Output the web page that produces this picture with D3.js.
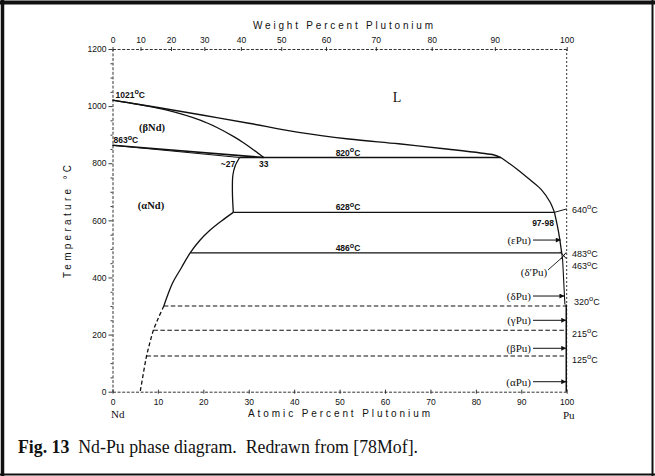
<!DOCTYPE html>
<html><head><meta charset="utf-8">
<script src="https://cdn.jsdelivr.net/npm/d3@7"></script>
<style>
html,body{margin:0;padding:0;background:#fff;}
svg{display:block;}
</style></head><body>
<svg id="chart" width="655" height="476"></svg>
<script>
// ---- axis values ----
const atomicTicks = [0, 10, 20, 30, 40, 50, 60, 70, 80, 90, 100];
const weightTicks = [0, 10, 20, 30, 40, 50, 60, 70, 80, 90, 100];
const tempTicks = [0, 200, 400, 600, 800, 1000, 1200];

// ---- phase boundaries: [at.% Pu, °C] ----
const liquidusNd = [[0,1021],[10,995],[20,968],[30,940],[41,908],[52,885],[63,868],[74,849],[81,836],[84,829],[85.5,820]];
const liquidusPuRich = [[85.5,820],[89,780],[92,741],[94.5,706],[96.3,665],[97.3,628]];
const liquidusPu = [[97.3,628],[100,640]];
const betaNdSolidus = [[0,1021],[6,1005],[12,986],[19.3,951],[23,925],[26.7,893],[29,870],[31.1,846],[33.3,820]];
const betaNdTransus = [[0,863],[33.3,820]];
const alphaNdTransus = [[0,863],[28,820]];
const alphaNdSolvusHigh = [[28,820],[27,790],[26.5,758],[26.4,700],[26.6,628]];
const alphaNdSolvusLow = [[26.6,628],[24,598],[21.5,566],[19.3,531],[17.1,486],[15.2,435],[13.2,380],[12.2,340],[11.3,300]];
const alphaNdSolvusDashed = [[11.3,300],[10.1,258],[9,215],[8.2,170],[7.5,125],[6.8,65],[6.1,0]];
const epsPuSolvus = [[97.3,628],[98.2,560],[98.9,486]];
const deltaPuBoundary = [[98.9,486],[99.1,463],[99.6,305]];
const puSideBoundary = [[99.9,305],[99.9,0]];

// invariant lines
const isoTemps = [820, 628, 486];
const isoFrom = [28, 26.6, 17.1];
const isoTo = [85.5, 97.3, 98.9];
const dashTemps = [300, 215, 125];
const dashFrom = [11.3, 9, 7.5];
const dashTo = [100, 100, 100];

// Pu-side allotropes and arrow levels
const puPhases = ["(εPu)", "(δPu)", "(γPu)", "(βPu)", "(αPu)"];
const puArrowTemps = [531, 335, 250, 152, 35];
const puPhaseTemps = [640, 483, 463, 320, 215, 125];

// atomic masses for the weight-percent scale
const massNd = 144.24, massPu = 244;
const wtToAt = w => 100 * (w / massPu) / (w / massPu + (100 - w) / massNd);

const svg = d3.select("#chart");
const ink = "#111";

const x = d3.scaleLinear().domain([0, 100]).range([112.5, 566.7]);
const y = d3.scaleLinear().domain([0, 1200]).range([391.7, 49]);

// outer frame
svg.append("rect").attr("x", 0).attr("y", 0).attr("width", 655).attr("height", 476).attr("fill", "#fff");
svg.append("line").attr("x1", 0).attr("x2", 655).attr("y1", 2.5).attr("y2", 2.5).attr("stroke", ink).attr("stroke-width", 4);
svg.append("line").attr("x1", 2.5).attr("x2", 2.5).attr("y1", 0).attr("y2", 476).attr("stroke", ink).attr("stroke-width", 3.5);
svg.append("line").attr("x1", 652.5).attr("x2", 652.5).attr("y1", 0).attr("y2", 476).attr("stroke", ink).attr("stroke-width", 2);
svg.append("line").attr("x1", 0).attr("x2", 655).attr("y1", 474.5).attr("y2", 474.5).attr("stroke", ink).attr("stroke-width", 2);

const tickFont = "'Liberation Sans', Arial, sans-serif";

function styleAxis(g) {
  g.select(".domain").attr("stroke", "#333").attr("stroke-width", 1).attr("stroke-dasharray", "3,1.6");
  g.selectAll(".tick line").attr("stroke", "#222").attr("stroke-width", 0.9);
  g.selectAll(".tick text").attr("fill", ink).attr("font-family", tickFont).attr("font-size", 8.5);
}

// left temperature axis
svg.append("g").attr("transform", `translate(${x(0)},0)`)
  .call(d3.axisLeft(y).tickValues(tempTicks).tickFormat(d => String(d)).tickSize(4).tickSizeOuter(0).tickPadding(2))
  .call(styleAxis);
// minor ticks
svg.append("g").attr("transform", `translate(${x(0)},0)`)
  .call(d3.axisLeft(y).tickValues(d3.range(50, 1200, 50).filter(v => v % 200)).tickSize(2).tickFormat(""))
  .call(g => g.select(".domain").remove())
  .call(styleAxis);

// bottom atomic-percent axis
svg.append("g").attr("transform", `translate(0,${y(0)})`)
  .call(d3.axisBottom(x).tickValues(atomicTicks).tickFormat(d => String(d)).tickSize(3).tickSizeOuter(0).tickPadding(4))
  .call(styleAxis)
  .call(g => g.selectAll(".tick line").attr("y1", -2).attr("y2", 2));

// top weight-percent axis
svg.append("g").attr("transform", `translate(0,${y(1200)})`)
  .call(d3.axisTop(x).tickValues(weightTicks.map(wtToAt)).tickFormat((d, i) => String(weightTicks[i])).tickSize(3).tickSizeOuter(0).tickPadding(3))
  .call(styleAxis)
  .call(g => g.selectAll(".tick line").attr("y1", -2).attr("y2", 2));

// right edge (pure Pu)
svg.append("line").attr("x1", x(100)).attr("x2", x(100)).attr("y1", y(1200)).attr("y2", y(0))
  .attr("stroke", "#333").attr("stroke-width", 1).attr("stroke-dasharray", "2,2");

// axis titles
svg.append("text").attr("x", 253).attr("y", 28.5).attr("textLength", 180).attr("lengthAdjust", "spacing")
  .attr("font-family", tickFont).attr("font-size", 10).attr("fill", ink).text("Weight Percent Plutonium");
svg.append("text").attr("x", 248).attr("y", 417).attr("textLength", 182).attr("lengthAdjust", "spacing")
  .attr("font-family", tickFont).attr("font-size", 10).attr("fill", ink).text("Atomic Percent Plutonium");
svg.append("text").attr("transform", "translate(71,278) rotate(-90)").attr("textLength", 113).attr("lengthAdjust", "spacing")
  .attr("font-family", tickFont).attr("font-size", 10).attr("fill", ink).text("Temperature °C");
svg.append("text").attr("x", 111).attr("y", 417.5).attr("font-family", "'Liberation Serif', serif").attr("font-size", 11).attr("fill", ink).text("Nd");
svg.append("text").attr("x", 563).attr("y", 419).attr("font-family", "'Liberation Serif', serif").attr("font-size", 11).attr("fill", ink).text("Pu");

// phase boundary lines
const line = d3.line().x(d => x(d[0])).y(d => y(d[1]));
const curve = d3.line().x(d => x(d[0])).y(d => y(d[1])).curve(d3.curveCatmullRom.alpha(0.5));
const bounds = svg.append("g").attr("fill", "none").attr("stroke", ink).attr("stroke-width", 1.3).attr("stroke-linejoin", "round");
bounds.append("path").attr("d", curve(liquidusNd)).attr("stroke-width", 1.4);
bounds.append("path").attr("d", curve(liquidusPuRich)).attr("stroke-width", 1.3);
bounds.append("path").attr("d", line(liquidusPu)).attr("stroke-width", 1);
bounds.append("path").attr("d", curve(betaNdSolidus));
bounds.append("path").attr("d", line(betaNdTransus)).attr("stroke-width", 1.6);
bounds.append("path").attr("d", line(alphaNdTransus)).attr("stroke-width", 1.2);
bounds.append("path").attr("d", curve(alphaNdSolvusHigh));
bounds.append("path").attr("d", curve(alphaNdSolvusLow));
bounds.append("path").attr("d", curve(alphaNdSolvusDashed)).attr("stroke-dasharray", "4,2.5");
bounds.append("path").attr("d", curve(epsPuSolvus));
bounds.append("path").attr("d", line(deltaPuBoundary)).attr("stroke-width", 1.1);
bounds.append("path").attr("d", line(puSideBoundary)).attr("stroke-width", 1.5);

isoTemps.forEach((t, i) => {
  bounds.append("line").attr("x1", x(isoFrom[i])).attr("x2", x(isoTo[i])).attr("y1", y(t)).attr("y2", y(t)).attr("stroke-width", 1.4);
});
dashTemps.forEach((t, i) => {
  bounds.append("line").attr("x1", x(dashFrom[i])).attr("x2", x(dashTo[i])).attr("y1", y(t)).attr("y2", y(t)).attr("stroke-dasharray", "4.5,2.5").attr("stroke-width", 1.1);
});

// small crossing between the delta and delta-prime fields
bounds.append("path").attr("d", line([[98.6, 490], [99.9, 466]])).attr("stroke-width", 1);
bounds.append("path").attr("d", line([[99.9, 488], [98.7, 464]])).attr("stroke-width", 1);

// temperature annotations with raised degree sign
function tempLabel(px, py, value, opts = {}) {
  const t = svg.append("text").attr("x", px).attr("y", py)
    .attr("font-family", tickFont).attr("font-size", opts.size || 8.5)
    .attr("font-weight", opts.bold ? "bold" : "normal")
    .attr("text-anchor", opts.anchor || "start").attr("fill", ink);
  t.append("tspan").text(value);
  t.append("tspan").attr("dy", -3.2).attr("font-size", (opts.size || 8.5) * 0.85).text("o");
  t.append("tspan").attr("dy", 3.2).text("C");
  return t;
}
tempLabel(x(0) + 3, y(1021) - 2.5, 1021, { bold: true });
tempLabel(x(0) + 1, y(863) - 2.5, 863, { bold: true });
isoTemps.forEach((t, i) => tempLabel(348, y(t) - 2, t, { bold: true, anchor: "middle" }));

// Pu-side transition temperatures
const puLabelY = [212.5, 257, 269, 304.5, 336.5, 362.5];
puPhaseTemps.forEach((t, i) => tempLabel(i === 3 ? 574 : 572, puLabelY[i], t, { size: 9 }));

// composition labels
const smallBold = s => s.attr("font-family", tickFont).attr("font-size", 8.5).attr("font-weight", "bold").attr("fill", ink);
svg.append("text").attr("x", 228).attr("y", y(820) + 9).attr("text-anchor", "middle").call(smallBold).text("~27");
svg.append("text").attr("x", x(33.3)).attr("y", y(820) + 9).attr("text-anchor", "middle").call(smallBold).text("33");
svg.append("text").attr("x", 543).attr("y", 226).attr("text-anchor", "middle").call(smallBold).text("97-98");

// phase field labels
const serif = "'Liberation Serif', 'Times New Roman', serif";
svg.append("text").attr("x", 397).attr("y", 102).attr("text-anchor", "middle").attr("font-family", serif).attr("font-size", 14).attr("fill", ink).text("L");
svg.append("text").attr("x", 152).attr("y", 130.5).attr("text-anchor", "middle").attr("font-family", serif).attr("font-size", 10.5).attr("font-weight", "bold").attr("fill", ink).text("(βNd)");
svg.append("text").attr("x", 151).attr("y", 209).attr("text-anchor", "middle").attr("font-family", serif).attr("font-size", 10.5).attr("font-weight", "bold").attr("fill", ink).text("(αNd)");
svg.append("text").attr("x", 534).attr("y", 275.5).attr("text-anchor", "middle").attr("font-family", serif).attr("font-size", 11).attr("fill", ink).text("(δ′Pu)");
bounds.append("path").attr("d", `M${x(99.2)},${y(473)}L548,270`).attr("stroke-width", 0.9);

// Pu allotrope labels with arrows
const defs = svg.append("defs");
defs.append("marker").attr("id", "head").attr("viewBox", "0 0 10 10").attr("refX", 10).attr("refY", 5)
  .attr("markerWidth", 6).attr("markerHeight", 5).attr("orient", "auto")
  .append("path").attr("d", "M0,0L10,5L0,10z").attr("fill", ink);
puPhases.forEach((p, i) => {
  const yy = y(puArrowTemps[i]);
  svg.append("text").attr("x", 531).attr("y", yy + 3.8).attr("text-anchor", "end")
    .attr("font-family", serif).attr("font-size", 11).attr("fill", ink).text(p);
  svg.append("line").attr("x1", 533).attr("x2", x(i === 0 ? 98.7 : i === 1 ? 99.5 : 99.9)).attr("y1", yy).attr("y2", yy)
    .attr("stroke", ink).attr("stroke-width", 1).attr("marker-end", "url(#head)");
});

// caption
const cap = svg.append("text").attr("x", 18).attr("y", 453).attr("font-family", serif).attr("font-size", 17.8).attr("fill", ink);
cap.append("tspan").attr("font-weight", "bold").text("Fig. 13");
cap.append("tspan").attr("xml:space", "preserve").text("  Nd-Pu phase diagram.  Redrawn from [78Mof].");
</script>
</body></html>
